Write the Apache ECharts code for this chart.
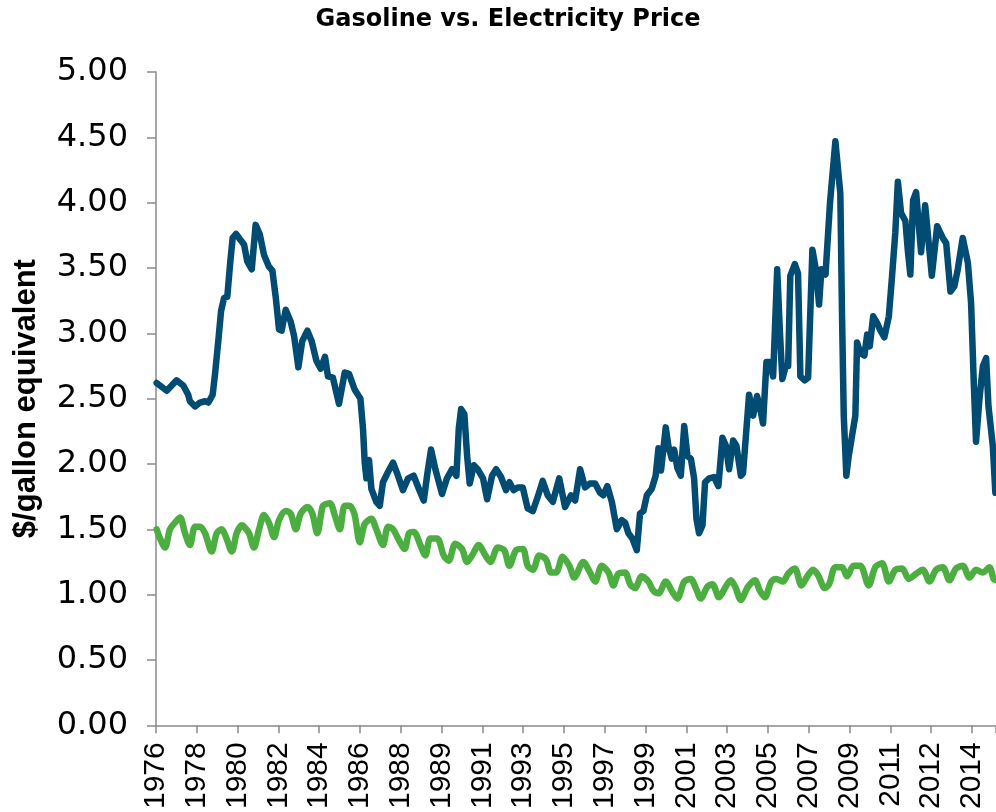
<!DOCTYPE html>
<html>
<head>
<meta charset="utf-8">
<title>Gasoline vs. Electricity Price</title>
<script src="https://cdn.jsdelivr.net/npm/echarts@6/dist/echarts.min.js"></script>
<style>
  html, body { margin: 0; padding: 0; background: #fff; }
  #chart { width: 996px; height: 812px; }
</style>
</head>
<body>
<div id="chart"></div>
<script>
// tick labels of the x axis (one every 1.9 years, as in the source chart)
const xTickLabels = ['1976', '1978', '1980', '1982', '1984', '1986', '1988', '1989', '1991', '1993',
    '1995', '1997', '1999', '2001', '2003', '2005', '2007', '2009', '2011', '2012', '2014'];

// gasoline, $/gallon  [year, value]
const gasoline = [
    [1976.03, 2.62], [1976.50, 2.56], [1976.96, 2.64], [1977.27, 2.60], [1977.50, 2.53], [1977.58, 2.48],
    [1977.82, 2.44], [1978.05, 2.47], [1978.28, 2.48], [1978.44, 2.47], [1978.64, 2.53], [1978.75, 2.69],
    [1978.90, 2.94], [1979.03, 3.17], [1979.17, 3.27], [1979.32, 3.28], [1979.45, 3.53], [1979.57, 3.73],
    [1979.73, 3.76], [1979.91, 3.72], [1980.10, 3.68], [1980.25, 3.55], [1980.46, 3.49], [1980.64, 3.83],
    [1980.83, 3.76], [1981.03, 3.60], [1981.26, 3.51], [1981.42, 3.48], [1981.58, 3.27], [1981.73, 3.03],
    [1981.85, 3.02], [1982.04, 3.18], [1982.27, 3.09], [1982.43, 2.98], [1982.63, 2.74], [1982.81, 2.94],
    [1983.05, 3.02], [1983.25, 2.94], [1983.47, 2.79], [1983.67, 2.73], [1983.87, 2.82], [1984.01, 2.67],
    [1984.24, 2.66], [1984.52, 2.46], [1984.79, 2.70], [1984.99, 2.69], [1985.25, 2.57], [1985.52, 2.50],
    [1985.64, 2.27], [1985.72, 2.01], [1985.80, 1.89], [1985.92, 2.03], [1986.03, 1.81], [1986.26, 1.71],
    [1986.42, 1.68], [1986.57, 1.86], [1986.81, 1.94], [1987.04, 2.01], [1987.27, 1.91], [1987.50, 1.80],
    [1987.74, 1.89], [1988.00, 1.91], [1988.24, 1.81], [1988.47, 1.72], [1988.65, 1.94], [1988.81, 2.11],
    [1989.01, 1.96], [1989.32, 1.77], [1989.55, 1.89], [1989.79, 1.96], [1989.99, 1.91], [1990.10, 2.27],
    [1990.21, 2.42], [1990.36, 2.38], [1990.49, 2.06], [1990.61, 1.85], [1990.80, 1.99], [1990.98, 1.96],
    [1991.23, 1.89], [1991.42, 1.73], [1991.65, 1.91], [1991.84, 1.96], [1992.07, 1.90], [1992.30, 1.80],
    [1992.46, 1.86], [1992.66, 1.80], [1992.85, 1.82], [1993.08, 1.82], [1993.31, 1.66], [1993.55, 1.64],
    [1993.78, 1.75], [1994.01, 1.87], [1994.24, 1.76], [1994.48, 1.71], [1994.78, 1.89], [1995.05, 1.67],
    [1995.33, 1.76], [1995.52, 1.72], [1995.75, 1.96], [1995.98, 1.82], [1996.21, 1.85], [1996.45, 1.85],
    [1996.68, 1.78], [1996.83, 1.76], [1997.02, 1.83], [1997.23, 1.71], [1997.46, 1.50], [1997.69, 1.57],
    [1997.85, 1.55], [1998.00, 1.47], [1998.18, 1.43], [1998.39, 1.34], [1998.54, 1.62], [1998.70, 1.64],
    [1998.86, 1.76], [1999.09, 1.81], [1999.27, 1.91], [1999.40, 2.12], [1999.52, 1.95], [1999.74, 2.28],
    [1999.86, 2.14], [2000.02, 2.04], [2000.13, 2.11], [2000.28, 1.97], [2000.44, 1.91], [2000.60, 2.29],
    [2000.75, 2.06], [2000.91, 2.04], [2001.06, 1.89], [2001.17, 1.58], [2001.29, 1.47], [2001.45, 1.53],
    [2001.57, 1.86], [2001.76, 1.89], [2001.99, 1.90], [2002.19, 1.83], [2002.38, 2.20], [2002.54, 2.14],
    [2002.69, 1.96], [2002.88, 2.18], [2003.03, 2.14], [2003.24, 1.91], [2003.34, 1.93], [2003.62, 2.53],
    [2003.81, 2.37], [2003.99, 2.52], [2004.12, 2.44], [2004.27, 2.31], [2004.43, 2.78], [2004.59, 2.78],
    [2004.74, 2.67], [2004.93, 3.49], [2005.05, 3.03], [2005.17, 2.65], [2005.33, 2.75], [2005.44, 2.75],
    [2005.54, 3.44], [2005.75, 3.53], [2005.90, 3.46], [2006.01, 2.67], [2006.21, 2.64], [2006.37, 2.66],
    [2006.57, 3.64], [2006.73, 3.49], [2006.88, 3.22], [2006.99, 3.49], [2007.18, 3.45], [2007.39, 4.00],
    [2007.64, 4.47], [2007.87, 4.07], [2007.95, 3.13], [2008.03, 2.37], [2008.15, 1.91], [2008.26, 2.06],
    [2008.42, 2.22], [2008.57, 2.37], [2008.65, 2.93], [2008.80, 2.85], [2008.99, 2.83], [2009.12, 2.99],
    [2009.24, 2.90], [2009.40, 3.13], [2009.58, 3.08], [2009.74, 3.02], [2009.92, 2.97], [2010.13, 3.13],
    [2010.28, 3.44], [2010.43, 3.77], [2010.55, 4.16], [2010.70, 3.92], [2010.90, 3.86], [2011.01, 3.64],
    [2011.13, 3.45], [2011.26, 4.02], [2011.40, 4.08], [2011.63, 3.62], [2011.82, 3.98], [2012.13, 3.44],
    [2012.38, 3.82], [2012.64, 3.73], [2012.80, 3.69], [2013.00, 3.32], [2013.18, 3.36], [2013.34, 3.49],
    [2013.57, 3.73], [2013.81, 3.54], [2013.96, 3.23], [2014.09, 2.60], [2014.19, 2.17], [2014.35, 2.50],
    [2014.51, 2.75], [2014.66, 2.81], [2014.77, 2.44], [2014.97, 2.14], [2015.09, 1.78]
];

// electricity, $/gallon equivalent  [year, value]
const electricity = [
    [1976.03, 1.50], [1976.19, 1.43], [1976.42, 1.36], [1976.65, 1.50], [1976.88, 1.55], [1977.12, 1.59],
    [1977.35, 1.47], [1977.58, 1.38], [1977.82, 1.52], [1978.05, 1.52], [1978.28, 1.47], [1978.59, 1.33],
    [1978.83, 1.47], [1979.06, 1.50], [1979.26, 1.44], [1979.53, 1.33], [1979.76, 1.47], [1979.99, 1.53],
    [1980.10, 1.52], [1980.33, 1.47], [1980.56, 1.36], [1980.80, 1.50], [1981.03, 1.61], [1981.26, 1.55],
    [1981.50, 1.44], [1981.73, 1.57], [1982.04, 1.64], [1982.27, 1.62], [1982.51, 1.50], [1982.74, 1.62],
    [1983.05, 1.67], [1983.28, 1.62], [1983.51, 1.47], [1983.75, 1.67], [1983.87, 1.69], [1984.10, 1.70],
    [1984.34, 1.60], [1984.56, 1.50], [1984.79, 1.68], [1985.02, 1.68], [1985.25, 1.61], [1985.49, 1.40],
    [1985.72, 1.54], [1986.03, 1.58], [1986.26, 1.50], [1986.57, 1.38], [1986.81, 1.52], [1987.04, 1.50],
    [1987.27, 1.43], [1987.58, 1.35], [1987.78, 1.47], [1988.00, 1.48], [1988.31, 1.38], [1988.54, 1.30],
    [1988.78, 1.43], [1989.09, 1.43], [1989.40, 1.30], [1989.63, 1.26], [1989.94, 1.39], [1990.25, 1.35],
    [1990.49, 1.25], [1990.72, 1.30], [1991.03, 1.38], [1991.34, 1.30], [1991.57, 1.25], [1991.92, 1.36],
    [1992.22, 1.34], [1992.46, 1.22], [1992.77, 1.34], [1993.08, 1.35], [1993.31, 1.22], [1993.55, 1.19],
    [1993.85, 1.30], [1994.16, 1.27], [1994.40, 1.17], [1994.63, 1.17], [1994.94, 1.29], [1995.25, 1.22],
    [1995.48, 1.13], [1995.90, 1.25], [1996.21, 1.17], [1996.45, 1.10], [1996.76, 1.22], [1997.07, 1.17],
    [1997.30, 1.07], [1997.53, 1.16], [1997.84, 1.17], [1998.08, 1.08], [1998.31, 1.05], [1998.62, 1.14],
    [1998.93, 1.10], [1999.16, 1.03], [1999.40, 1.01], [1999.74, 1.10], [2000.05, 1.02], [2000.28, 0.97],
    [2000.60, 1.10], [2000.90, 1.12], [2001.14, 1.05], [2001.37, 0.97], [2001.68, 1.06], [2001.91, 1.08],
    [2002.22, 0.98], [2002.53, 1.06], [2002.77, 1.11], [2003.00, 1.05], [2003.23, 0.96], [2003.57, 1.06],
    [2003.89, 1.11], [2004.12, 1.03], [2004.35, 0.98], [2004.66, 1.10], [2004.89, 1.12], [2005.20, 1.10],
    [2005.44, 1.16], [2005.75, 1.20], [2006.06, 1.07], [2006.37, 1.15], [2006.60, 1.19], [2006.83, 1.15],
    [2007.15, 1.05], [2007.35, 1.08], [2007.64, 1.21], [2007.95, 1.21], [2008.18, 1.14], [2008.49, 1.22],
    [2008.80, 1.22], [2009.19, 1.07], [2009.50, 1.21], [2009.81, 1.24], [2010.13, 1.10], [2010.43, 1.19],
    [2010.75, 1.20], [2011.06, 1.12], [2011.40, 1.16], [2011.71, 1.19], [2012.02, 1.10], [2012.33, 1.19],
    [2012.64, 1.21], [2012.95, 1.11], [2013.26, 1.20], [2013.57, 1.22], [2013.89, 1.13], [2014.19, 1.19],
    [2014.51, 1.17], [2014.81, 1.21], [2015.01, 1.12], [2015.12, 1.11]
];

(function() {
    let chartDom = document.getElementById('chart');
    let myChart = echarts.init(chartDom);
    const axisGray = '#8a8a8a';
    const xStart = 1976;
    const xStep = 1.9;

    let option = {
        animation: false,
        title: {
            text: 'Gasoline vs. Electricity Price',
            left: 503,
            top: 3,
            textAlign: 'center',
            textStyle: {
                fontFamily: 'DejaVu Sans',
                fontWeight: 'bold',
                fontSize: 24,
                color: '#000'
            }
        },
        grid: {
            left: 156,
            right: 0,
            top: 72,
            bottom: 85
        },
        xAxis: {
            type: 'value',
            min: xStart,
            max: 2015.12,
            interval: xStep,
            splitLine: { show: false },
            axisLine: { lineStyle: { color: axisGray, width: 1.5 } },
            axisTick: { length: 8, lineStyle: { color: axisGray, width: 1.5 } },
            axisLabel: {
                rotate: 90,
                margin: 17,
                color: '#000',
                fontFamily: 'Liberation Sans',
                fontSize: 30,
                formatter: function(v) {
                    let k = Math.round((v - xStart) / xStep);
                    if (Math.abs(xStart + k * xStep - v) > 0.05) return '';
                    return xTickLabels[k] || '';
                }
            }
        },
        yAxis: {
            type: 'value',
            min: 0,
            max: 5,
            interval: 0.5,
            name: '$/gallon equivalent',
            nameLocation: 'middle',
            nameRotate: 90,
            nameGap: 114,
            nameTextStyle: {
                fontFamily: 'Liberation Sans',
                fontWeight: 'bold',
                fontSize: 31,
                color: '#000'
            },
            splitLine: { show: false },
            axisLine: { show: true, lineStyle: { color: axisGray, width: 1.5 } },
            axisTick: { show: true, length: 9, lineStyle: { color: axisGray, width: 1.5 } },
            axisLabel: {
                margin: 28,
                color: '#000',
                fontFamily: 'DejaVu Sans',
                fontSize: 32,
                formatter: function(v) { return v.toFixed(2); }
            }
        },
        series: [{
                name: 'Gasoline',
                type: 'line',
                data: gasoline,
                showSymbol: false,
                clip: true,
                lineStyle: { color: '#024b72', width: 6.5, join: 'round', cap: 'round' }
            },
            {
                name: 'Electricity',
                type: 'line',
                data: electricity,
                showSymbol: false,
                smooth: 0.3,
                clip: true,
                lineStyle: { color: '#4cae40', width: 6.5, join: 'round', cap: 'round' }
            }
        ]
    };
    myChart.setOption(option);
    window.addEventListener('resize', function() {
        myChart.resize();
    });
})();
</script>
</body>
</html>
